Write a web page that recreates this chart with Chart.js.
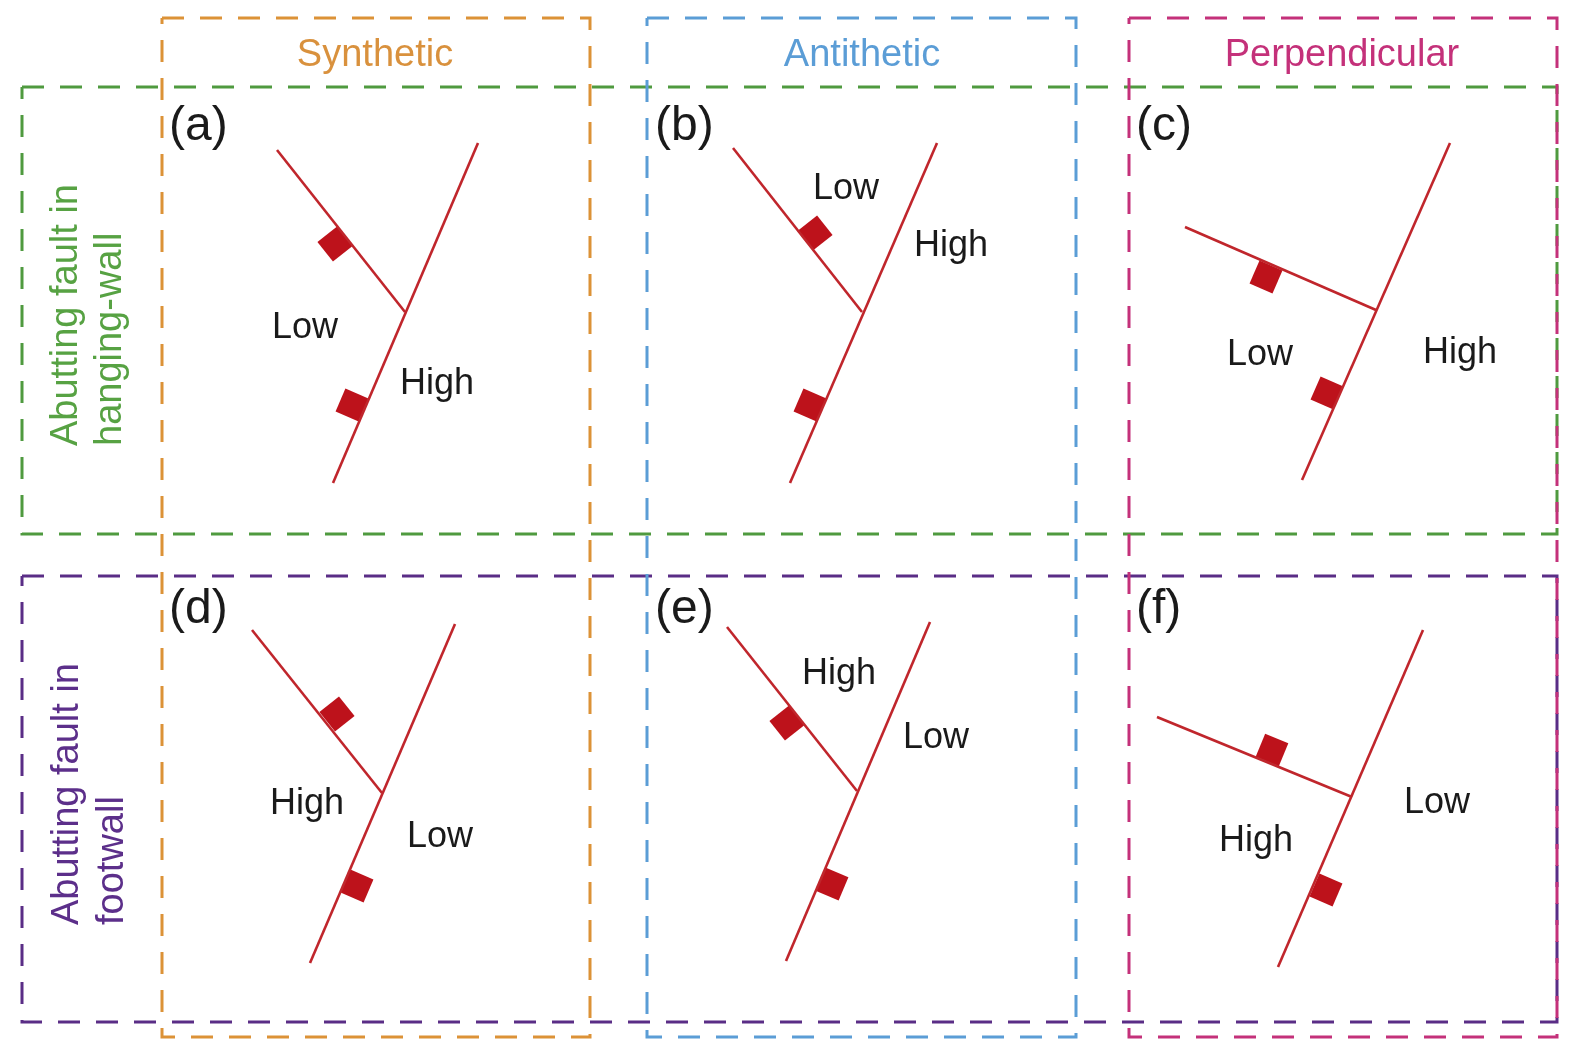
<!DOCTYPE html>
<html>
<head>
<meta charset="utf-8">
<script src="https://cdn.jsdelivr.net/npm/chart.js@4/dist/chart.umd.min.js"></script>
<style>
html,body{margin:0;padding:0;background:#fff;}
#c{display:block;}
</style>
</head>
<body>
<canvas id="c" width="1570" height="1044"></canvas>
<script>
// ---- data (diagram coordinates, y grows downward) ----
const panelLetters = ['(a)','(b)','(c)','(d)','(e)','(f)'];
const letterX = [169,655,1136,169,655,1136];
const letterY = [140,140,140,623,623,623];

// main (through-going) fault traces
const mainX1 = [478,937,1450,455,930,1423];
const mainY1 = [143,143,143,624,622,630];
const mainX2 = [333,790,1302,310,786,1278];
const mainY2 = [483,483,480,963,961,967];
// abutting fault traces
const abutX1 = [277,733,1185,252,727,1157];
const abutY1 = [150,148,227,630,627,717];
const abutX2 = [405,862,1376,382,857,1352];
const abutY2 = [312,312,310,793,791,797];
// hanging-wall tick squares
const abutSqX = [335,815,1266,337,787,1272];
const abutSqY = [244,233,277,714,723,750];
const mainSqX = [352,810,1327,357,832,1326];
const mainSqY = [405,405,393,886,884,890];

// High / Low labels
const zoneText = ['Low','High','Low','High','Low','High','High','Low','High','Low','High','Low'];
const zoneX = [305,437,846,951,1260,1460,307,440,839,936,1256,1437];
const zoneY = [338,394,199,256,365,363,814,847,684,748,851,813];

// column titles
const colTitles = ['Synthetic','Antithetic','Perpendicular'];
const colTitleX = [375,862,1342];
const colTitleY = [66,66,66];

// row labels (two lines each, rotated)
const rowLines = [['Abutting fault in','hanging-wall'],['Abutting fault in','footwall']];
const rowLineX = [[77,121],[78,123]];
const rowStartY = [446,925];

// dashed boxes: synthetic, antithetic, perpendicular, hanging-wall row, footwall row
const boxLeft = [162,647,1129,22,22];
const boxRight = [590,1076,1557,1557,1557];
const boxTop = [18,18,18,87,576];
const boxBottom = [1037,1037,1037,534,1022];

// ---- styles ----
const boxColors = ['#dc9237','#5b9dd6','#c4317a','#4f9a3f','#5a2d86'];
const titleColors = ['#d9913d','#5b9dd6','#c4317a'];
const rowColors = ['#57a243','#5c2f8a'];
const faultColor = '#c0262c';
const squareColor = '#bd121b';
const FONT = '"Liberation Sans", Arial, Helvetica, sans-serif';

const datasets = [];
function deg(x1,y1,x2,y2){ return Math.atan2(y2-y1, x2-x1)*180/Math.PI; }

// faults
for (let i=0;i<6;i++){
  datasets.push({data:[{x:mainX1[i],y:mainY1[i]},{x:mainX2[i],y:mainY2[i]}],
    showLine:true, borderColor:faultColor, borderWidth:2.6, pointRadius:0, order:0});
  datasets.push({data:[{x:abutX1[i],y:abutY1[i]},{x:abutX2[i],y:abutY2[i]}],
    showLine:true, borderColor:faultColor, borderWidth:2.6, pointRadius:0, order:0});
}
// squares
const sqData = [], sqRot = [];
for (let i=0;i<6;i++){
  sqData.push({x:abutSqX[i],y:abutSqY[i]});
  sqRot.push(deg(abutX1[i],abutY1[i],abutX2[i],abutY2[i]));
  sqData.push({x:mainSqX[i],y:mainSqY[i]});
  sqRot.push(deg(mainX1[i],mainY1[i],mainX2[i],mainY2[i]));
}
datasets.push({data:sqData, showLine:false, pointStyle:'rect', pointRadius:17.7,
  pointRotation:sqRot, backgroundColor:squareColor, borderWidth:0, order:0});
// boxes
for (let i=0;i<5;i++){
  datasets.push({data:[{x:boxLeft[i],y:boxTop[i]},{x:boxRight[i],y:boxTop[i]},
      {x:boxRight[i],y:boxBottom[i]},{x:boxLeft[i],y:boxBottom[i]},{x:boxLeft[i],y:boxTop[i]}],
    showLine:true, borderColor:boxColors[i], borderWidth:3, borderDash:[22,16],
    pointRadius:0, order:1, tension:0});
}

const textPlugin = {
  id:'texts',
  afterDatasetsDraw(chart){
    const ctx = chart.ctx, sx = chart.scales.x, sy = chart.scales.y;
    const X = v => sx.getPixelForValue(v), Y = v => sy.getPixelForValue(v);
    ctx.save();
    ctx.textBaseline = 'alphabetic';
    // titles
    ctx.font = '38px ' + FONT; ctx.textAlign = 'center';
    colTitles.forEach((t,i)=>{ ctx.fillStyle = titleColors[i]; ctx.fillText(t, X(colTitleX[i]), Y(colTitleY[i])); });
    // panel letters
    ctx.font = '48px ' + FONT; ctx.textAlign = 'left'; ctx.fillStyle = '#1a1a1a';
    panelLetters.forEach((t,i)=> ctx.fillText(t, X(letterX[i]), Y(letterY[i])));
    // zone labels
    ctx.font = '36px ' + FONT; ctx.textAlign = 'center'; ctx.fillStyle = '#1a1a1a';
    zoneText.forEach((t,i)=> ctx.fillText(t, X(zoneX[i]), Y(zoneY[i])));
    // row labels
    ctx.font = '38px ' + FONT; ctx.textAlign = 'left';
    rowLines.forEach((lines,r)=>{
      ctx.fillStyle = rowColors[r];
      lines.forEach((t,k)=>{
        ctx.save();
        ctx.translate(X(rowLineX[r][k]), Y(rowStartY[r]));
        ctx.rotate(-Math.PI/2);
        ctx.fillText(t, 0, 0);
        ctx.restore();
      });
    });
    ctx.restore();
  }
};

new Chart(document.getElementById('c'), {
  type:'scatter',
  data:{datasets},
  options:{
    responsive:false, animation:false, events:[],
    layout:{padding:0, autoPadding:false},
    plugins:{legend:{display:false}, tooltip:{enabled:false}, title:{display:false}},
    scales:{
      x:{type:'linear', min:0, max:1570, display:false},
      y:{type:'linear', min:0, max:1044, reverse:true, display:false}
    }
  },
  plugins:[textPlugin]
});
</script>
</body>
</html>
